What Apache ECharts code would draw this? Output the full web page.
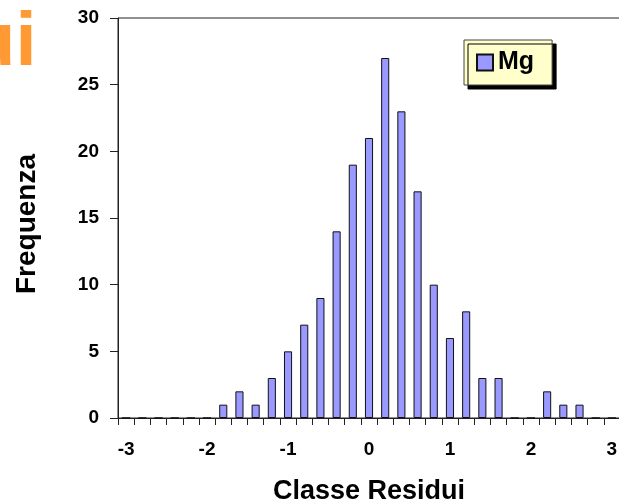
<!DOCTYPE html>
<html>
<head>
<meta charset="utf-8">
<script src="https://cdn.jsdelivr.net/npm/echarts@6/dist/echarts.min.js"></script>
<style>
  html, body { margin: 0; padding: 0; background: #fff; }
  #main { width: 619px; height: 504px; }
</style>
</head>
<body>
<div id="main"></div>
<script>
// bin centres of the residual classes, step 0.2
const classes = ['-3', '-2.8', '-2.6', '-2.4', '-2.2', '-2', '-1.8', '-1.6', '-1.4', '-1.2',
    '-1', '-0.8', '-0.6', '-0.4', '-0.2', '0', '0.2', '0.4', '0.6', '0.8',
    '1', '1.2', '1.4', '1.6', '1.8', '2', '2.2', '2.4', '2.6', '2.8', '3']
const mgFreq = [0, 0, 0, 0, 0, 0, 1, 2, 1, 3,
    5, 7, 9, 14, 19, 21, 27, 23, 17, 10,
    6, 8, 3, 3, 0, 0, 2, 1, 1, 0, 0]

const font = 'Arial, "Liberation Sans", sans-serif'
const axisColor = '#222'

const chart = echarts.init(document.getElementById('main'))

chart.setOption({
    animation: false,
    graphic: [
        {
            // leftover of the slide title, cut by the picture edge
            type: 'text',
            left: -31,
            top: 6,
            style: {
                text: 'ui',
                font: 'bold 76px ' + font,
                fill: '#ff9933',
                shadowColor: 'rgba(140,140,140,0.8)',
                shadowOffsetX: 4,
                shadowOffsetY: 4,
                shadowBlur: 1,
            },
        },
    ],
    legend: {
        left: 464,
        top: 40,
        padding: [10, 18, 10, 12],
        backgroundColor: '#ffffcc',
        borderColor: '#444',
        borderWidth: 1,
        borderRadius: 0,
        shadowColor: '#000',
        shadowOffsetX: 4,
        shadowOffsetY: 4,
        shadowBlur: 0,
        itemWidth: 16,
        itemHeight: 16,
        itemGap: 4,
        icon: 'rect',
        textStyle: {
            fontFamily: font,
            fontWeight: 'bold',
            fontSize: 25,
            color: '#000',
        },
        data: ['Mg'],
    },
    grid: {
        left: 118,
        top: 18,
        right: -1,
        bottom: 86,
        show: true,
        borderColor: axisColor,
        borderWidth: 1,
        containLabel: false,
        outerBoundsMode: 'none',
    },
    xAxis: {
        type: 'category',
        data: classes,
        name: 'Classe Residui',
        nameLocation: 'middle',
        nameGap: 60,
        nameTextStyle: {
            fontFamily: font,
            fontWeight: 'bold',
            fontSize: 27,
            color: '#000',
        },
        axisLine: { lineStyle: { color: axisColor, width: 1 } },
        axisTick: {
            show: true,
            interval: 0,
            length: 7,
            lineStyle: { color: axisColor },
        },
        axisLabel: {
            interval: 4,
            margin: 22,
            fontFamily: font,
            fontWeight: 'bold',
            fontSize: 19,
            color: '#000',
        },
        splitLine: { show: false },
    },
    yAxis: {
        type: 'value',
        min: 0,
        max: 30,
        interval: 5,
        name: 'Frequenza',
        nameLocation: 'middle',
        nameGap: 77,
        nameTextStyle: {
            fontFamily: font,
            fontWeight: 'bold',
            fontSize: 28,
            color: '#000',
            padding: [0, 12, 0, 0],
        },
        axisLine: { show: true, lineStyle: { color: axisColor, width: 1 } },
        axisTick: { show: true, length: 8, lineStyle: { color: axisColor } },
        axisLabel: {
            margin: 19,
            fontFamily: font,
            fontWeight: 'bold',
            fontSize: 19,
            color: '#000',
        },
        splitLine: { show: false },
    },
    series: [
        {
            name: 'Mg',
            type: 'bar',
            data: mgFreq,
            barWidth: '50%',
            itemStyle: {
                color: '#9999ff',
                borderColor: '#111',
                borderWidth: 1,
            },
        },
    ],
})
</script>
</body>
</html>
